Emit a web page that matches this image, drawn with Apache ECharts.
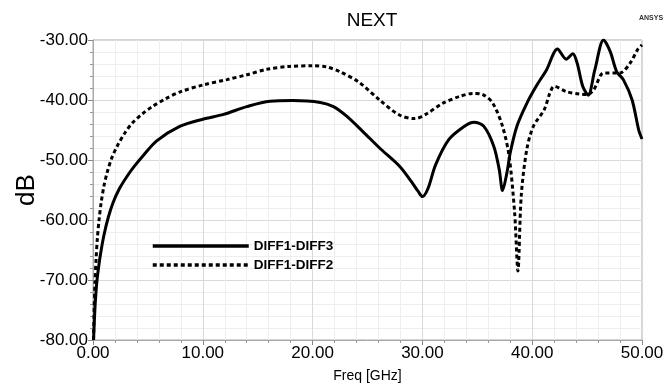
<!DOCTYPE html>
<html><head><meta charset="utf-8">
<script src="https://cdn.jsdelivr.net/npm/echarts@6/dist/echarts.min.js"></script>
<style>html,body{margin:0;padding:0;background:#fff}#c{width:663px;height:383px}</style>
</head><body><div id="c"></div>
<script>
const seriesNames = ["DIFF1-DIFF3", "DIFF1-DIFF2"];
const freq13 = [0.05,0.12,0.2,0.34,0.5,0.7,1.0,1.4,1.85,2.4,3.0,3.7,4.6,5.8,7.9,10.0,11.9,14.0,16.1,18.2,20.7,21.9,23.1,24.6,26.1,27.9,29.0,29.6,30.0,30.5,31.2,32.4,33.8,34.7,35.6,36.5,37.0,37.3,37.7,38.0,38.6,39.5,40.4,41.3,42.3,43.1,43.7,44.1,44.6,45.1,45.7,46.5,47.1,47.7,48.3,49.1,49.7,50.0];
const db13 = [-80,-77,-74,-70.5,-68,-65.5,-62.5,-59.5,-57,-54.8,-53,-51.2,-49.2,-46.8,-44.4,-43.2,-42.4,-41.1,-40.2,-40.1,-40.4,-41.1,-42.7,-45.3,-48.0,-51.0,-53.6,-55.2,-56.1,-54.8,-50.8,-46.6,-44.4,-43.7,-44.4,-47.7,-51.6,-55.1,-52.1,-48.8,-44.4,-40.6,-37.6,-35,-31.5,-33.2,-32.3,-33.9,-37.7,-39.2,-35,-30,-31.9,-35.3,-36.6,-40,-45,-46.5];
const freq12 = [0.05,0.1,0.18,0.28,0.4,0.55,0.75,1.0,1.3,1.7,2.2,2.9,3.6,4.5,5.4,6.6,8.0,10.0,12.2,14.0,15.8,17.9,20.0,21.3,22.5,24.2,26.1,27.9,29.3,30.3,31.8,33.4,34.6,35.5,36.4,37.3,37.9,38.4,38.7,39.0,39.5,40.1,41.1,41.6,42.0,43.1,44.3,45.0,45.6,46.5,47.4,48.0,48.9,49.6,50.0];
const db12 = [-80,-75,-70.5,-66.5,-63,-60,-57,-54.3,-52,-49.7,-47.7,-45.5,-43.8,-42.3,-41.1,-39.8,-38.6,-37.5,-36.6,-35.8,-34.9,-34.4,-34.3,-34.5,-35.3,-37.0,-40,-42.5,-43.1,-42.4,-40.6,-39.4,-38.9,-39.1,-40.5,-44.4,-49.4,-58.8,-68.5,-56,-48.3,-44.4,-41.6,-38.9,-37.7,-38.6,-39,-39.1,-38.3,-35.5,-35.5,-35.5,-33.9,-31.6,-30.8];
const xTicks = [0,10,20,30,40,50];
const yTicks = [-80,-70,-60,-50,-40,-30];

const zip = (a,b)=>a.map((v,i)=>[v,b[i]]);
const chart = echarts.init(document.getElementById('c'), null, {renderer:'canvas'});
const FONT = 'Liberation Sans, Arial, sans-serif';
chart.setOption({
  animation:false,
  backgroundColor:'#fff',
  title:[
    {text:'NEXT', left:367, top:6, textAlign:'center', textStyle:{fontFamily:FONT, fontSize:19, fontWeight:'normal', color:'#000'}},
    {text:'ANSYS', left:646, top:10, textAlign:'center', textStyle:{fontFamily:FONT, fontSize:7, fontWeight:'bold', color:'#333'}}
  ],
  grid:{left:93, right:21, top:40, bottom:43, show:true, borderColor:'#a8a8a8', borderWidth:1, containLabel:false, outerBoundsMode:'none'},
  legend:{
    orient:'vertical', left:151, top:239, padding:0, itemWidth:96, itemHeight:14, itemGap:5,
    data:seriesNames,
    textStyle:{fontFamily:FONT, fontSize:13.5, fontWeight:'bold', color:'#000', padding:[0,0,0,0]},
    lineStyle:{width:3.5},
    itemStyle:{opacity:0}
  },
  xAxis:{
    type:'value', min:xTicks[0], max:xTicks[xTicks.length-1], interval:10,
    name:'Freq [GHz]', nameLocation:'middle', nameGap:29, nameMoveOverlap:false,
    nameTextStyle:{fontFamily:FONT, fontSize:14, color:'#000'},
    axisLine:{show:true, onZero:false, lineStyle:{color:'#a8a8a8'}},
    axisTick:{show:true, length:5, lineStyle:{color:'#888'}},
    minorTick:{show:true, splitNumber:5, length:3, lineStyle:{color:'#999'}},
    axisLabel:{fontFamily:FONT, fontSize:17, color:'#000', margin:5, formatter:v=>v.toFixed(2)},
    splitLine:{show:true, lineStyle:{color:'#d9d9d9'}},
    minorSplitLine:{show:true, lineStyle:{color:'#eeeeee'}}
  },
  yAxis:{
    type:'value', min:yTicks[0], max:yTicks[yTicks.length-1], interval:10,
    name:'dB', nameLocation:'middle', nameGap:53, nameRotate:90, nameMoveOverlap:false,
    nameTextStyle:{fontFamily:FONT, fontSize:26, color:'#000'},
    axisLine:{show:true, onZero:false, lineStyle:{color:'#a8a8a8'}},
    axisTick:{show:true, length:5, lineStyle:{color:'#888'}},
    minorTick:{show:true, splitNumber:5, length:3, lineStyle:{color:'#999'}},
    axisLabel:{fontFamily:FONT, fontSize:17, color:'#000', margin:5, formatter:v=>v.toFixed(2)},
    splitLine:{show:true, lineStyle:{color:'#d9d9d9'}},
    minorSplitLine:{show:true, lineStyle:{color:'#eeeeee'}}
  },
  series:[
    {name:seriesNames[0], type:'line', data:zip(freq13,db13), showSymbol:false, symbol:'none', smooth:0.3,
      lineStyle:{color:'#000', width:3, type:'solid'}, itemStyle:{color:'#000'}, z:3},
    {name:seriesNames[1], type:'line', data:zip(freq12,db12), showSymbol:false, symbol:'none', smooth:0.3,
      lineStyle:{color:'#000', width:3, type:[4,3]}, itemStyle:{color:'#000'}, z:2}
  ]
});
</script></body></html>
